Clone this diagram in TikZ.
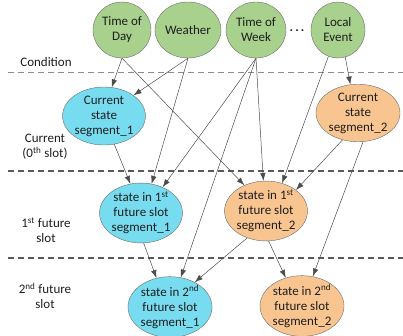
\documentclass[tikz,border=0pt]{standalone}
\usepackage{fontspec}
\setmainfont{Carlito}
\usetikzlibrary{arrows.meta,shapes.geometric}

\definecolor{condfill}{HTML}{A9D18E}
\definecolor{segafill}{HTML}{78DCF0}
\definecolor{segbfill}{HTML}{F8C591}
\definecolor{rim}{HTML}{6B6B6B}
\definecolor{txt}{HTML}{1E1E1E}

\begin{document}
\begin{tikzpicture}[x=1pt,y=-1pt,
  every node/.style={font=\fontsize{13}{15}\selectfont,text=txt,align=center},
  cond/.style={ellipse,draw=rim,fill=condfill,inner sep=0pt,minimum height=56pt},
  sega/.style={ellipse,draw=rim,fill=segafill,inner sep=0pt,minimum width=80pt,minimum height=55pt},
  segb/.style={ellipse,draw=rim,fill=segbfill,inner sep=0pt,minimum width=80pt,minimum height=55pt},
  link/.style={draw=black!70,line width=.5pt,-{Latex[length=8pt,width=5.5pt]}},
  slotline/.style={draw=black!65,line width=1.4pt,dash pattern=on 6pt off 4pt}]
\useasboundingbox (0,0) rectangle (403,335);

% slot borders
\draw[draw=black!45,line width=.7pt,dash pattern=on 6pt off 4pt] (8,72) -- (403,72);
\draw[slotline] (8,171) -- (403,171);
\draw[slotline] (8,258) -- (403,258);

% row labels
\node (lcond) at (46,62) {Condition};
\node (lcur) at (45,147) {Current\\(0\textsuperscript{th} slot)};
\node (lone) at (46,230) {1\textsuperscript{st} future\\slot};
\node (ltwo) at (45,296) {2\textsuperscript{nd} future\\slot};

% conditions
\node[cond,minimum width=58pt] (tod) at (122,30) {Time of\\Day};
\node[cond,minimum width=66pt] (wea) at (188,30) {Weather};
\node[cond,minimum width=60pt] (tow) at (256,30) {Time of\\Week};
\node (dots) at (297,31) {\textbf{.\,.\,.}};
\node[cond,minimum width=54pt] (loc) at (338,30) {Local\\Event};

% states per slot
\node[sega,minimum width=78pt,minimum height=58pt] (c1) at (104,116) {Current\\state\\segment\_1};
\node[segb,minimum width=84pt,minimum height=54pt] (c2) at (358,113) {Current\\state\\segment\_2};
\node[sega,minimum width=82pt] (f1a) at (141,213) {state in 1\textsuperscript{st}\\future slot\\segment\_1};
\node[segb] (f1b) at (266,211) {state in 1\textsuperscript{st}\\future slot\\segment\_2};
\node[sega,minimum width=84pt,minimum height=56pt] (f2a) at (170,307) {state in 2\textsuperscript{nd}\\future slot\\segment\_1};
\node[segb,minimum width=84pt,minimum height=50pt] (f2b) at (302,306) {state in 2\textsuperscript{nd}\\future slot\\segment\_2};

% dependencies
\draw[link] (tod.south) -- (c1.75);
\draw[link] (wea.south) -- (c1.35);
\draw[link] (tod.south) -- (f1b.130);
\draw[link] (wea.south) -- (f1a.70);
\draw[link] (tow.south) -- (f1a.50);
\draw[link] (tow.south) -- (f2a.70);
\draw[link] (tow.south) -- (f1b.95);
\draw[link] (loc.285) -- (c2.105);
\draw[link] (loc.250) -- (f1b.60);
\draw[link] (c1.290) -- (f1a.110);
\draw[link] (c2.240) -- (f1b.35);
\draw[link] (c2.280) -- (f2b.70);
\draw[link] (f1a.275) -- (f2a.115);
\draw[link] (f1b.235) -- (f2a.45);
\draw[link] (f1b.275) -- (f2b.120);
\end{tikzpicture}
\end{document}
